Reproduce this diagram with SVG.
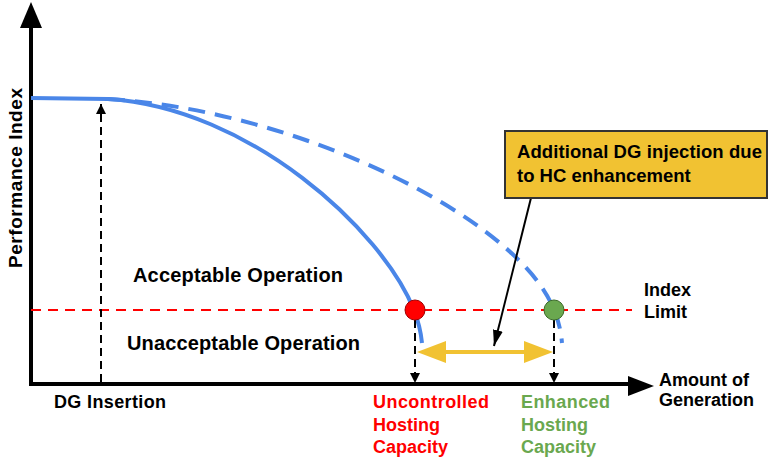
<svg xmlns="http://www.w3.org/2000/svg" width="768" height="463" viewBox="0 0 768 463">
<defs>
<style>
text{font-family:"Liberation Sans",Arial,sans-serif;font-weight:bold;fill:#000}
.lbl{font-size:18px}
.big{font-size:20px}
.red{fill:#ff0000}
.grn{fill:#6aa84f}
.blue{fill:none;stroke:#4a86e8;stroke-width:4;stroke-linecap:butt}
.vd{fill:none;stroke:#000;stroke-width:2;stroke-dasharray:8 5}
</style>
<marker id="ah" viewBox="0 0 10 10" refX="10" refY="5" markerWidth="10" markerHeight="10" markerUnits="userSpaceOnUse" orient="auto"><path d="M0,0L10,5L0,10z" fill="#000"/></marker>
<marker id="ahb" viewBox="0 0 16 10" refX="16" refY="5" markerWidth="16" markerHeight="10" markerUnits="userSpaceOnUse" orient="auto"><path d="M0,0L16,5L0,10z" fill="#000"/></marker>
</defs>
<rect width="768" height="463" fill="#fff"/>

<g id="axes">
<line x1="31" y1="385" x2="31" y2="24" stroke="#000" stroke-width="4"/>
<path d="M31,2L20,28L42,28z" fill="#000"/>
<line x1="29" y1="384" x2="632" y2="384" stroke="#000" stroke-width="4"/>
<path d="M654,386L628,376L628,396z" fill="#000"/>
</g>

<g id="index-limit">
<line x1="31" y1="310" x2="632" y2="310" stroke="#ff0000" stroke-width="2" stroke-dasharray="10 7"/>
</g>

<g id="curves">
<path class="blue" d="M31,98L108,99C250,108 382,230 414,310C419,323 421,333 422,343"/>
<path class="blue" d="M108,99C300,110 520,220 554,310C559,322 561,332 562,343" stroke-dasharray="17 10"/>
</g>

<g id="connectors">
<line class="vd" x1="101" y1="382" x2="101" y2="104" marker-end="url(#ah)"/>
<line class="vd" x1="415" y1="320" x2="415" y2="383" marker-end="url(#ah)"/>
<line class="vd" x1="554" y1="320" x2="554" y2="383" marker-end="url(#ah)"/>
<g id="hc-gap">
<line x1="440" y1="352" x2="530" y2="352" stroke="#f1c232" stroke-width="4"/>
<path d="M417,352L446,341L446,363z" fill="#f1c232"/>
<path d="M553,352L524,341L524,363z" fill="#f1c232"/>
</g>
<line x1="531" y1="198" x2="494" y2="346" stroke="#000" stroke-width="2" marker-end="url(#ahb)"/>
</g>

<g id="uncontrolled-point"><circle cx="415" cy="310" r="10" fill="#ff0000" stroke="#a00000" stroke-width="1"/></g>
<g id="enhanced-point"><circle cx="554" cy="310" r="10" fill="#6aa84f" stroke="#3d6b2a" stroke-width="1"/></g>

<g id="annotation-box">
<rect x="505" y="131" width="262" height="67" fill="#f1c232" stroke="#333" stroke-width="2"/>
<text x="517" y="158" font-size="18.5" textLength="245">Additional DG injection due</text>
<text x="517" y="182" font-size="18.5">to HC enhancement</text>
</g>

<g id="labels">
<text transform="translate(22,178) rotate(-90)" text-anchor="middle" font-size="19" textLength="180">Performance Index</text>
<text class="big" x="133" y="282" textLength="210">Acceptable Operation</text>
<text class="big" x="127" y="350" textLength="233">Unacceptable Operation</text>
<text class="lbl" x="54" y="408" textLength="112">DG Insertion</text>
<text class="lbl red" x="373" y="408" textLength="116">Uncontrolled</text>
<text class="lbl red" x="373" y="431">Hosting</text>
<text class="lbl red" x="373" y="453">Capacity</text>
<text class="lbl grn" x="521" y="408" textLength="89">Enhanced</text>
<text class="lbl grn" x="521" y="431">Hosting</text>
<text class="lbl grn" x="521" y="453">Capacity</text>
<text class="lbl" x="659" y="386">Amount of</text>
<text class="lbl" x="659" y="406">Generation</text>
<text class="lbl" x="644" y="296">Index</text>
<text class="lbl" x="644" y="318">Limit</text>
</g>
</svg>
